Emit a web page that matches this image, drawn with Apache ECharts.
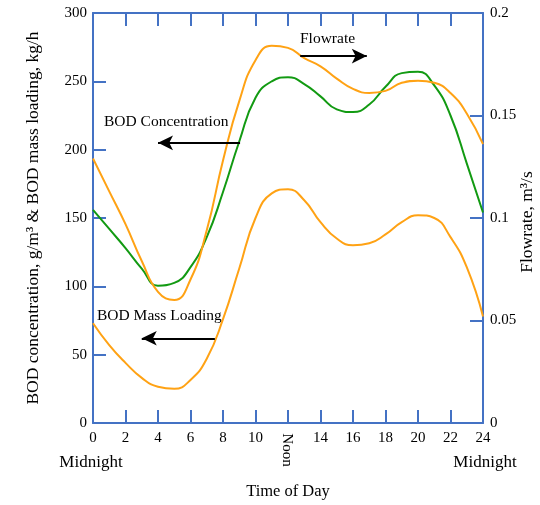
<!DOCTYPE html>
<html>
<head>
<meta charset="utf-8">
<script src="https://cdn.jsdelivr.net/npm/echarts@6/dist/echarts.min.js"></script>
<style>
  html, body { margin: 0; padding: 0; background: #fff; }
  #container { width: 540px; height: 505px; }
</style>
</head>
<body>
<div id="container"></div>
<script>
// hour of day
var hours = [0, 1, 2, 3, 4, 5, 6, 7, 8, 9, 10, 11, 12, 13, 14, 15, 16, 17, 18, 19, 20, 21, 22, 23, 24];
// BOD concentration, g/m3
var bodConc = [156, 142, 128, 113, 100.5, 102.5, 114, 136, 169, 206, 238, 250, 253, 248, 239, 229.5, 227.5, 233, 246, 256, 257, 247, 225, 190, 154];
// BOD mass loading, kg/h
var bodLoad = [73, 57, 44, 33, 26.5, 25, 31.5, 47, 76, 113, 150, 168, 171, 163, 147, 135, 130, 131.5, 138, 147, 152, 150, 136, 114, 78];
// flowrate, m3/s
var flow = [0.129, 0.113, 0.097, 0.079, 0.064, 0.060, 0.070, 0.094, 0.128, 0.157, 0.177, 0.184, 0.183, 0.178, 0.174, 0.168, 0.163, 0.161, 0.162, 0.166, 0.167, 0.166, 0.161, 0.151, 0.136];

var dom = document.getElementById('container');
var myChart = echarts.init(dom, null, { renderer: 'canvas' });
var option;

var axisBlue = '#4472C4';
var orange = '#FFA214';
var green = '#129A12';
var font = 'Liberation Serif';

function pairs(ys) {
  return hours.map(function (h, i) { return [h, ys[i]]; });
}

function arrow(from, to) {
  return {
    silent: true,
    animation: false,
    symbol: ['none', 'arrow'],
    symbolSize: [11, 15],
    label: { show: false },
    lineStyle: { color: '#000', width: 2, type: 'solid' },
    emphasis: { disabled: true },
    data: [[{ coord: from }, { coord: to }]]
  };
}

function label(text, x, y, size, extra) {
  var el = {
    type: 'text', x: x, y: y,
    style: { text: text, fill: '#000', font: size + 'px "Liberation Serif"', align: 'left', verticalAlign: 'middle' }
  };
  if (extra) {
    for (var k in extra) {
      if (k === 'rotation') el.rotation = extra[k];
      else el.style[k] = extra[k];
    }
  }
  return el;
}

var tickStyle = { show: true, inside: true, length: 13, lineStyle: { color: axisBlue, width: 2 } };
var lineStyleAxis = { show: true, onZero: false, lineStyle: { color: axisBlue, width: 2 } };

option = {
  animation: false,
  textStyle: { fontFamily: font },
  grid: { left: 93, right: 57, top: 13, bottom: 82, outerBoundsMode: 'none', containLabel: false },
  xAxis: [
    {
      type: 'value', min: 0, max: 24, interval: 2, position: 'bottom',
      axisLine: lineStyleAxis, axisTick: tickStyle, splitLine: { show: false },
      axisLabel: {
        color: '#000', fontSize: 15, fontFamily: font, margin: 8,
        showMinLabel: true, showMaxLabel: true, hideOverlap: false,
        formatter: function (v) {
          return v === 12 ? '' : String(v);
        }
      },
      name: 'Time of Day', nameLocation: 'middle', nameGap: 60,
      nameTextStyle: { color: '#000', fontSize: 16.5, fontFamily: font }
    },
    {
      type: 'value', min: 0, max: 24, interval: 2, position: 'top',
      axisLine: lineStyleAxis, axisTick: tickStyle, splitLine: { show: false },
      axisLabel: { show: false }
    }
  ],
  yAxis: [
    {
      type: 'value', min: 0, max: 300, interval: 50, position: 'left',
      axisLine: lineStyleAxis, axisTick: tickStyle, splitLine: { show: false },
      axisLabel: { color: '#000', fontSize: 15, fontFamily: font, margin: 6 },
      name: 'BOD concentration, g/m³ & BOD mass loading, kg/h',
      nameLocation: 'middle', nameRotate: 90, nameGap: 51,
      nameTextStyle: { color: '#000', fontSize: 17.5, fontFamily: font }
    },
    {
      type: 'value', min: 0, max: 0.2, interval: 0.05, position: 'right',
      axisLine: lineStyleAxis, axisTick: tickStyle, splitLine: { show: false },
      axisLabel: { color: '#000', fontSize: 15, fontFamily: font, margin: 7 }
    }
  ],
  series: [
    {
      name: 'BOD Concentration', type: 'line', smooth: 0.5, showSymbol: false,
      data: pairs(bodConc), lineStyle: { color: green, width: 2 },
      markLine: arrow([9.05, 205], [4.0, 205])
    },
    {
      name: 'BOD Mass Loading', type: 'line', smooth: 0.5, showSymbol: false,
      data: pairs(bodLoad), lineStyle: { color: orange, width: 2 },
      markLine: arrow([7.5, 62], [3.0, 62])
    },
    {
      name: 'Flowrate', type: 'line', smooth: 0.5, showSymbol: false, yAxisIndex: 1,
      data: pairs(flow), lineStyle: { color: orange, width: 2 },
      markLine: arrow([12.75, 0.179], [16.85, 0.179])
    }
  ],
  graphic: [
    label('Noon', 287, 450, 15, { align: 'center', rotation: -Math.PI / 2 }),
    label('Flowrate, m³/s', 527, 222, 17.5, { align: 'center', rotation: Math.PI / 2 }),
    label('Midnight', 91, 463, 17, { align: 'center' }),
    label('Midnight', 485, 463, 17, { align: 'center' }),
    label('Flowrate', 300, 39, 15.5),
    label('BOD Concentration', 104, 122, 15.5),
    label('BOD Mass Loading', 97, 316, 15.5)
  ]
};

myChart.setOption(option);
window.addEventListener('resize', myChart.resize);
</script>
</body>
</html>
